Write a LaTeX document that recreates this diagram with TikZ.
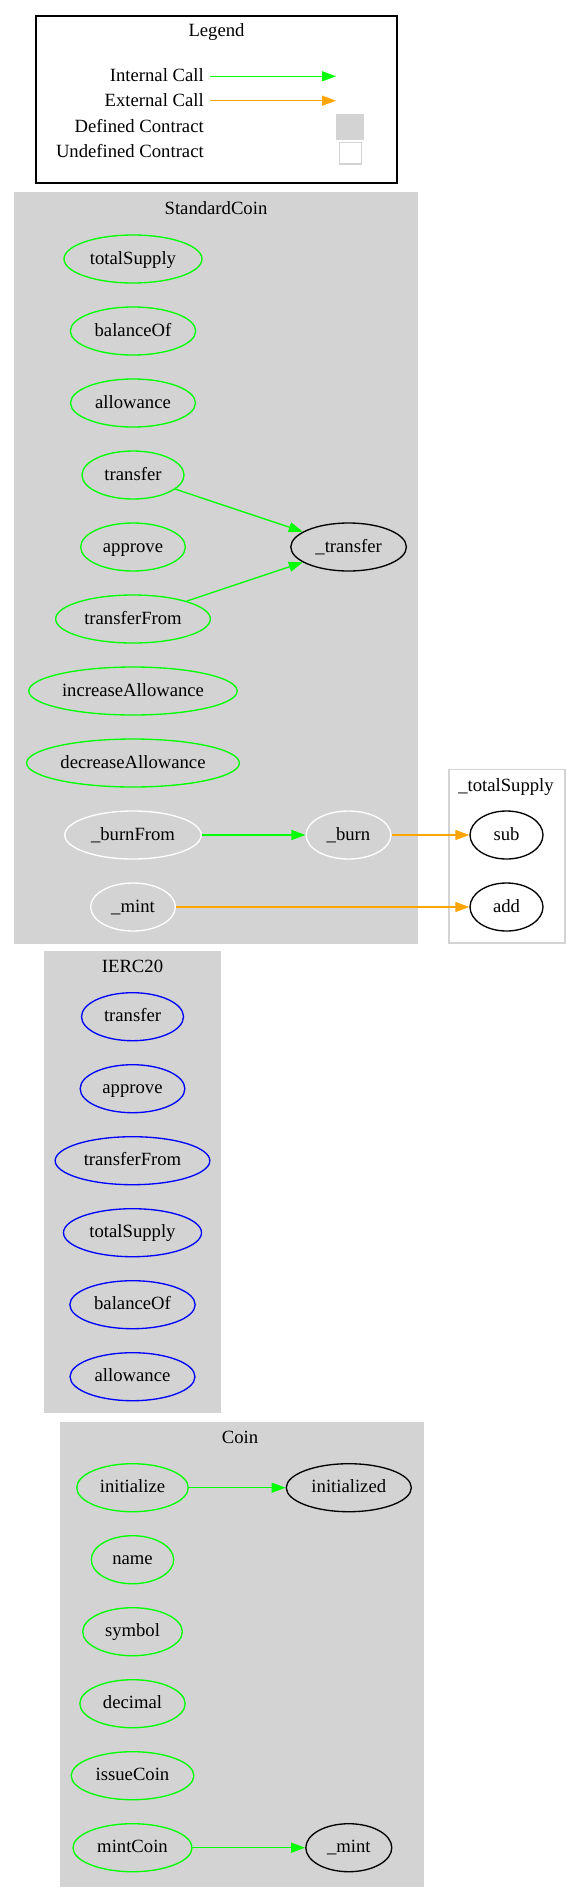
\documentclass[tikz,border=0pt]{standalone}
\usepackage{fontspec}
\setmainfont{Liberation Serif}
\usetikzlibrary{shapes.geometric,arrows.meta}

\definecolor{callgreen}{HTML}{00FF00}
\definecolor{callorange}{HTML}{FFA500}
\definecolor{clustergray}{HTML}{D3D3D3}
\definecolor{ifaceblue}{HTML}{0000FF}

\tikzset{
	txt/.style={font=\fontsize{14pt}{16pt}\selectfont},
	fn/.style={txt, ellipse, draw, line width=1pt, minimum height=36pt, inner sep=0pt, text height=10pt, text depth=2.5pt},
	pubfn/.style={fn, draw=callgreen},
	ifacefn/.style={fn, draw=ifaceblue},
	privfn/.style={fn, draw=white},
	outfn/.style={fn, draw=black},
	cluster/.style={draw=clustergray, fill=clustergray, line width=1pt},
	title/.style={txt, anchor=base, inner sep=0pt},
	lgdlabel/.style={txt, anchor=east, inner xsep=4.5pt, inner ysep=0pt, text height=10.5pt, text depth=2pt},
	intcall/.style={draw=callgreen, line width=1pt, -{Triangle[length=10.5pt,width=7.5pt]}},
	extcall/.style={draw=callorange, line width=1pt, -{Triangle[length=10.5pt,width=7.5pt]}}
}

\begin{document}
\begin{tikzpicture}[x=0.75pt, y=-0.75pt]
		%%%%% START %%%%%
		\useasboundingbox (0, 0) rectangle (567, 1899);
		
		% legend
		\draw[line width=1pt, fill=white] (36, 16) rectangle (397, 183);
		\node[title] (lgdTitle) at (216.5, 36) {Legend};
		\node[lgdlabel] (lgdInt) at (210, 76.3) {Internal Call};
		\node[lgdlabel] (lgdExt) at (210, 100.7) {External Call};
		\node[lgdlabel] (lgdDef) at (210, 126.6) {Defined Contract};
		\node[lgdlabel] (lgdUndef) at (210, 152.3) {Undefined Contract};
		\coordinate (lgdIntTip) at (336, 76.3);
		\coordinate (lgdExtTip) at (336, 100.7);
		\draw[intcall] (lgdInt.east) -- (lgdIntTip);
		\draw[extcall] (lgdExt.east) -- (lgdExtTip);
		\draw[cluster] (337, 115) rectangle (363.5, 139.3);
		\draw[line width=1pt, draw=clustergray, fill=white] (339.4, 142.7) rectangle (361.3, 164);
		
		% StandardCoin
		\draw[cluster] (15, 193) rectangle (417, 943);
		\node[title] (scTitle) at (216, 214.5) {StandardCoin};
		\node[pubfn, minimum width=103.5pt] (scTotalSupply) at (133, 259) {totalSupply};
		\node[pubfn, minimum width=94pt] (scBalanceOf) at (133, 331) {balanceOf};
		\node[pubfn, minimum width=93.7pt] (scAllowance) at (133, 403) {allowance};
		\node[pubfn, minimum width=76.5pt] (scTransfer) at (133, 475) {transfer};
		\node[pubfn, minimum width=78.5pt] (scApprove) at (133, 547) {approve};
		\node[pubfn, minimum width=116pt] (scTransferFrom) at (133, 619) {transferFrom};
		\node[pubfn, minimum width=156.3pt] (scIncrease) at (133, 691) {increaseAllowance};
		\node[pubfn, minimum width=159.6pt] (scDecrease) at (133, 763) {decreaseAllowance};
		\node[privfn, minimum width=102.3pt] (scBurnFrom) at (133, 835) {\_burnFrom};
		\node[privfn, minimum width=63.5pt] (scMint) at (133, 907) {\_mint};
		\node[outfn, minimum width=86.7pt] (scTransferPriv) at (348.6, 547) {\_transfer};
		\node[privfn, minimum width=63.6pt] (scBurn) at (348.5, 835) {\_burn};
		
		% _totalSupply
		\draw[line width=1pt, draw=clustergray, fill=white] (449, 769.5) rectangle (565, 943);
		\node[title] (tsTitle) at (506, 791) {\_totalSupply};
		\node[outfn, minimum width=54.75pt] (tsSub) at (506.5, 835) {sub};
		\node[outfn, minimum width=54.75pt] (tsAdd) at (506.5, 907) {add};
		
		\draw[intcall] (scTransfer) -- (scTransferPriv);
		\draw[intcall] (scTransferFrom) -- (scTransferPriv);
		\draw[intcall] (scBurnFrom) -- (scBurn);
		\draw[extcall] (scBurn) -- (tsSub);
		\draw[extcall] (scMint) -- (tsAdd);
		
		% IERC20
		\draw[cluster] (45, 952) rectangle (220, 1412);
		\node[title] (ercTitle) at (132.5, 972) {IERC20};
		\node[ifacefn, minimum width=76.5pt] (ercTransfer) at (132.5, 1016.7) {transfer};
		\node[ifacefn, minimum width=78.5pt] (ercApprove) at (132.5, 1088.7) {approve};
		\node[ifacefn, minimum width=116pt] (ercTransferFrom) at (132.5, 1160.7) {transferFrom};
		\node[ifacefn, minimum width=103.5pt] (ercTotalSupply) at (132.5, 1232.7) {totalSupply};
		\node[ifacefn, minimum width=94pt] (ercBalanceOf) at (132.5, 1304.7) {balanceOf};
		\node[ifacefn, minimum width=93.7pt] (ercAllowance) at (132.5, 1376.7) {allowance};
		
		% Coin
		\draw[cluster] (60.5, 1422.5) rectangle (423, 1886);
		\node[title] (coinTitle) at (240, 1443.3) {Coin};
		\node[pubfn, minimum width=83.6pt] (coinInitialize) at (132.5, 1487.7) {initialize};
		\node[pubfn, minimum width=61.8pt] (coinName) at (132.5, 1559.7) {name};
		\node[pubfn, minimum width=74.7pt] (coinSymbol) at (132.5, 1631.7) {symbol};
		\node[pubfn, minimum width=79pt] (coinDecimal) at (132.5, 1703.7) {decimal};
		\node[pubfn, minimum width=92pt] (coinIssue) at (132.5, 1775.7) {issueCoin};
		\node[pubfn, minimum width=89.3pt] (coinMintCoin) at (132.5, 1847.7) {mintCoin};
		\node[outfn, minimum width=93.8pt] (coinInitialized) at (348.8, 1487.7) {initialized};
		\node[outfn, minimum width=64.5pt] (coinMint) at (348.8, 1847.7) {\_mint};
		
		\draw[intcall] (coinInitialize) -- (coinInitialized);
		\draw[intcall] (coinMintCoin) -- (coinMint);
		
		%%%%% END %%%%%
\end{tikzpicture}
\end{document}
